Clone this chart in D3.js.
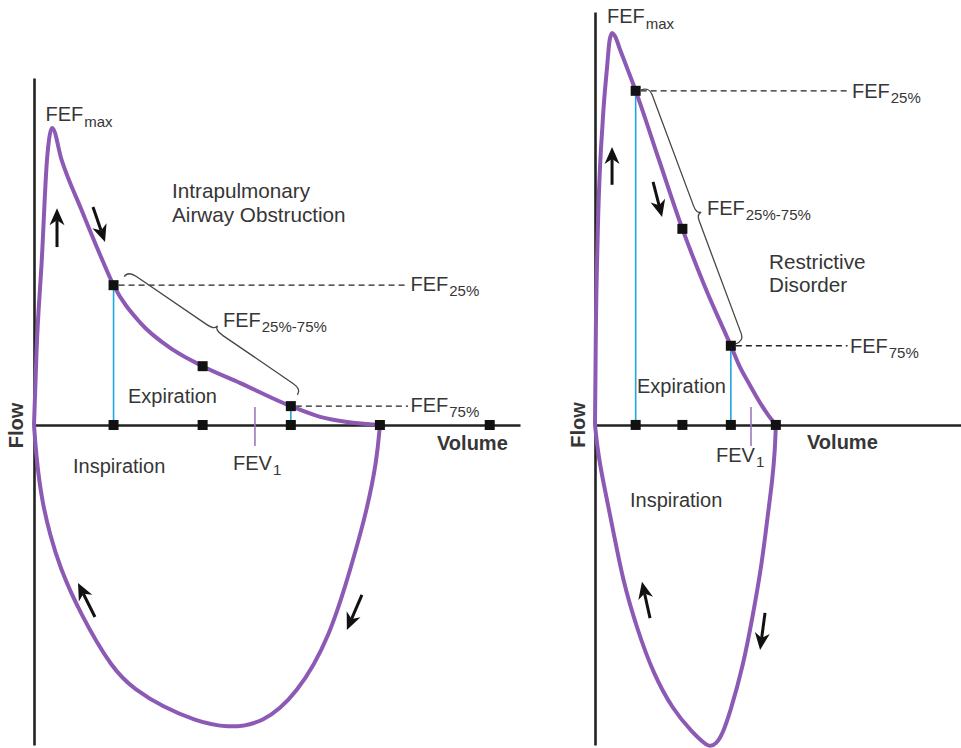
<!DOCTYPE html>
<html>
<head>
<meta charset="utf-8">
<script src="https://cdn.jsdelivr.net/npm/d3@7"></script>
<style>
  html, body { margin: 0; padding: 0; background: #fff; }
  svg { display: block; }
  text { font-family: "Liberation Sans", Arial, Helvetica, sans-serif; fill: #363636; }
</style>
</head>
<body>
<svg id="chart" width="961" height="748"></svg>
<script>
// ---------- Obstructive pattern: flow-volume loop (volume in L, flow in L/s) ----------
const obsExpVolume  = [0, 0.03, 0.09, 0.15, 0.21, 0.32, 0.55, 0.79, 0.92, 1.23, 1.61, 1.95, 2.38, 2.97, 3.31, 3.62, 4.00];
const obsExpFlow    = [0, 2.03, 4.46, 7.16, 8.03, 7.16, 5.81, 4.46, 3.78, 2.76, 2.03, 1.59, 1.14, 0.51, 0.22, 0.08, 0];
const obsInspVolume = [0, 0.03, 0.09, 0.185, 0.30, 0.53, 0.91, 1.17, 1.49, 1.86, 2.23, 2.65, 3.04, 3.42, 3.69, 3.85, 3.965, 4.00];
const obsInspFlow   = [0, -0.95, -2.03, -2.97, -3.86, -5.08, -6.62, -7.16, -7.62, -7.99, -8.20, -8.07, -7.28, -5.76, -3.65, -2.30, -0.95, 0];
const obsCurveMarkVolume = [0.92, 1.95, 2.97];      // FEF25%, FEF50%, FEF75%
const obsCurveMarkFlow   = [3.78, 1.59, 0.51];
const obsAxisMarkVolume  = [0.92, 1.95, 2.97, 4.00, 5.27];
const obsFev1Volume = 2.555;

// ---------- Restrictive pattern ----------
const resExpVolume  = [0, 0.01, 0.03, 0.09, 0.14, 0.17, 0.20, 0.23, 0.29, 0.38, 0.47, 0.74, 1.01, 1.28, 1.57, 1.68, 1.77, 1.91, 2.00, 2.09];
const resExpFlow    = [0, 2.57, 5.00, 8.24, 9.68, 10.41, 10.59, 10.51, 10.14, 9.59, 9.03, 7.16, 5.30, 3.68, 2.14, 1.54, 1.16, 0.59, 0.27, 0];
const resInspVolume = [0, 0.03, 0.09, 0.21, 0.32, 0.49, 0.67, 0.90, 1.13, 1.27, 1.33, 1.40, 1.47, 1.56, 1.71, 1.83, 1.93, 2.00, 2.05, 2.08, 2.09];
const resInspFlow   = [0, -0.68, -1.49, -2.84, -4.19, -5.54, -6.70, -7.70, -8.32, -8.62, -8.70, -8.62, -8.38, -7.78, -6.54, -5.08, -3.73, -2.38, -1.49, -0.68, 0];
const resCurveMarkVolume = [0.47, 1.01, 1.57];
const resCurveMarkFlow   = [9.03, 5.30, 2.14];
const resAxisMarkVolume  = [0.47, 1.01, 1.57, 2.09];
const resFev1Volume = 1.803;

// Direction arrows along the loop: [tailVolume, tailFlow, tipVolume, tipFlow]
const obsArrows = [[0.266, 4.81, 0.266, 5.86], [0.682, 5.89, 0.821, 4.95], [0.705, -5.19, 0.509, -4.27], [3.792, -4.59, 3.618, -5.54]];
const resArrows = [[0.197, 6.49, 0.197, 7.51], [0.671, 6.57, 0.775, 5.62], [0.636, -5.22, 0.543, -4.24], [1.965, -5.08, 1.908, -6.08]];

const svg = d3.select("#chart");
const PURPLE = "#8c5ab4", BLUE = "#1fa6e0", INK = "#222";

const panels = [
  {
    xDomain: [0, 5.62], xRange: [34, 520], yDomain: [-8.65, 9.38], yRange: [745, 78],
    exp: [obsExpVolume, obsExpFlow], insp: [obsInspVolume, obsInspFlow],
    cm: [obsCurveMarkVolume, obsCurveMarkFlow], am: obsAxisMarkVolume, fev1: obsFev1Volume, arrows: obsArrows,
    brace: { s0: 4, s1: 1, h0: 13, h1: 20, h2: 25, r: 10 },
    fef25Label: [410.5, 291], fef75Label: [410.5, 412], fefMax: [45.5, 121], fefMid: [223, 327],
    title: [["Intrapulmonary", 172, 198], ["Airway Obstruction", 172, 222]],
    expiration: [128, 403], inspiration: [73, 473], fevLabel: [233, 470], volume: [437, 450], flow: [22.5, 425.5]
  },
  {
    xDomain: [0, 4.23], xRange: [595, 961], yDomain: [-8.65, 11.16], yRange: [745, 12],
    exp: [resExpVolume, resExpFlow], insp: [resInspVolume, resInspFlow],
    cm: [resCurveMarkVolume, resCurveMarkFlow], am: resAxisMarkVolume, fev1: resFev1Volume, arrows: resArrows,
    brace: { s0: 1, s1: 0, h0: 5, h1: 14, h2: 19, r: 8 },
    fef25Label: [852, 98], fef75Label: [850, 353], fefMax: [607, 23], fefMid: [707, 215],
    title: [["Restrictive", 769, 269], ["Disorder", 769, 292]],
    expiration: [637, 393], inspiration: [630, 507], fevLabel: [716, 462], volume: [807, 449], flow: [585, 425]
  }
];

function fefText(g, x, y, main, sub, size, subSize, drop) {
  const t = g.append("text").attr("x", x).attr("y", y).attr("font-size", size);
  t.append("tspan").text(main);
  t.append("tspan").attr("dx", 1).attr("dy", drop).attr("font-size", subSize).text(sub);
}

function bracePath(p1, p2, b) {
  const dx = p2[0] - p1[0], dy = p2[1] - p1[1], L0 = Math.hypot(dx, dy);
  const ux = dx / L0, uy = dy / L0, nx = uy, ny = -ux;
  const a = [p1[0] + ux * b.s0, p1[1] + uy * b.s0];
  const L = L0 - b.s0 - b.s1, m = L / 2;
  const P = (t, h) => (a[0] + ux * t + nx * h).toFixed(2) + "," + (a[1] + uy * t + ny * h).toFixed(2);
  return `M${P(0, b.h0)}Q${P(0, b.h1)} ${P(b.r, b.h1)}L${P(m - b.r, b.h1)}Q${P(m, b.h1)} ${P(m, b.h2)}` +
         `Q${P(m, b.h1)} ${P(m + b.r, b.h1)}L${P(L - b.r, b.h1)}Q${P(L, b.h1)} ${P(L, b.h0)}`;
}

function arrow(g, x1, y1, x2, y2) {
  const dx = x2 - x1, dy = y2 - y1, L = Math.hypot(dx, dy);
  const ux = dx / L, uy = dy / L, nx = -uy, ny = ux;
  const hl = 17, hw = 7.5, notch = 5;
  const bx = x2 - ux * hl, by = y2 - uy * hl;
  g.append("line").attr("x1", x1).attr("y1", y1)
    .attr("x2", x2 - ux * (hl - notch)).attr("y2", y2 - uy * (hl - notch))
    .attr("stroke", "#111").attr("stroke-width", 3);
  g.append("path")
    .attr("d", `M${x2},${y2}L${bx + nx * hw},${by + ny * hw}L${x2 - ux * (hl - notch)},${y2 - uy * (hl - notch)}L${bx - nx * hw},${by - ny * hw}Z`)
    .attr("fill", "#111");
}

panels.forEach(p => {
  const x = d3.scaleLinear().domain(p.xDomain).range(p.xRange);
  const y = d3.scaleLinear().domain(p.yDomain).range(p.yRange);
  const g = svg.append("g");
  const y0 = y(0);

  // axes (plain lines, no ticks)
  const ax = g.append("g").attr("transform", `translate(0,${y0})`)
    .call(d3.axisBottom(x).tickValues([]).tickSizeOuter(0));
  const ay = g.append("g").attr("transform", `translate(${x(0)},0)`)
    .call(d3.axisLeft(y).tickValues([]).tickSizeOuter(0));
  [ax, ay].forEach(a => a.select(".domain").attr("stroke", INK).attr("stroke-width", 2.6));

  const [cmV, cmF] = p.cm;

  // vertical guides from the volume axis up to the FEF25 and FEF75 points
  [0, 2].forEach(i => {
    g.append("line").attr("x1", x(cmV[i])).attr("x2", x(cmV[i]))
      .attr("y1", y0).attr("y2", y(cmF[i]))
      .attr("stroke", BLUE).attr("stroke-width", 1.6);
  });

  // FEV1 tick
  g.append("line").attr("x1", x(p.fev1)).attr("x2", x(p.fev1))
    .attr("y1", y0 - 18).attr("y2", y0 + 21)
    .attr("stroke", "#9b78bf").attr("stroke-width", 1.6);

  // dashed leaders to FEF25% / FEF75% labels
  [[0, p.fef25Label], [2, p.fef75Label]].forEach(([i, lab]) => {
    g.append("line").attr("x1", x(cmV[i]) + 5).attr("x2", lab[0] - 2.5)
      .attr("y1", y(cmF[i])).attr("y2", y(cmF[i]))
      .attr("stroke", INK).attr("stroke-width", 1.3).attr("stroke-dasharray", "6,4");
  });

  // brace spanning FEF25%–75%
  const bp1 = [x(cmV[0]), y(cmF[0])], bp2 = [x(cmV[2]), y(cmF[2])];
  g.append("path").attr("d", bracePath(bp1, bp2, p.brace))
    .attr("fill", "none").attr("stroke", "#474747").attr("stroke-width", 1.3);

  // flow-volume loop: expiratory limb interpolated, inspiratory limb smoothed
  const expLine = d3.line().x(d => x(d[0])).y(d => y(d[1])).curve(d3.curveMonotoneX);
  const inspLine = d3.line().x(d => x(d[0])).y(d => y(d[1])).curve(d3.curveBasis);
  [[p.exp, expLine], [p.insp, inspLine]].forEach(([[vs, fs], gen]) => {
    g.append("path").datum(vs.map((v, i) => [v, fs[i]]))
      .attr("d", gen).attr("fill", "none")
      .attr("stroke", PURPLE).attr("stroke-width", 4).attr("stroke-linejoin", "round");
  });

  // markers on the curve and on the volume axis
  const S = 10;
  cmV.forEach((v, i) => {
    g.append("rect").attr("x", x(v) - S / 2).attr("y", y(cmF[i]) - S / 2)
      .attr("width", S).attr("height", S).attr("fill", "#111");
  });
  p.am.forEach(v => {
    g.append("rect").attr("x", x(v) - S / 2).attr("y", y0 - S / 2)
      .attr("width", S).attr("height", S).attr("fill", "#111");
  });

  // direction arrows
  p.arrows.forEach(a => arrow(g, x(a[0]), y(a[1]), x(a[2]), y(a[3])));

  // labels
  fefText(g, p.fefMax[0], p.fefMax[1], "FEF", "max", 20, 15, 6);
  fefText(g, p.fef25Label[0], p.fef25Label[1], "FEF", "25%", 20, 15, 5);
  fefText(g, p.fef75Label[0], p.fef75Label[1], "FEF", "75%", 20, 15, 5);
  fefText(g, p.fefMid[0], p.fefMid[1], "FEF", "25%-75%", 20, 15, 5);
  fefText(g, p.fevLabel[0], p.fevLabel[1], "FEV", "1", 20, 15, 5);
  p.title.forEach(([t, tx, ty]) => g.append("text").attr("x", tx).attr("y", ty).attr("font-size", 20.7).text(t));
  g.append("text").attr("x", p.expiration[0]).attr("y", p.expiration[1]).attr("font-size", 20).text("Expiration");
  g.append("text").attr("x", p.inspiration[0]).attr("y", p.inspiration[1]).attr("font-size", 20).text("Inspiration");
  g.append("text").attr("x", p.volume[0]).attr("y", p.volume[1]).attr("font-size", 20)
    .attr("font-weight", "bold").text("Volume");
  g.append("text").attr("transform", `translate(${p.flow[0]},${p.flow[1]}) rotate(-90)`)
    .attr("text-anchor", "middle").attr("font-size", 20).attr("font-weight", "bold").text("Flow");
});
</script>
</body>
</html>
